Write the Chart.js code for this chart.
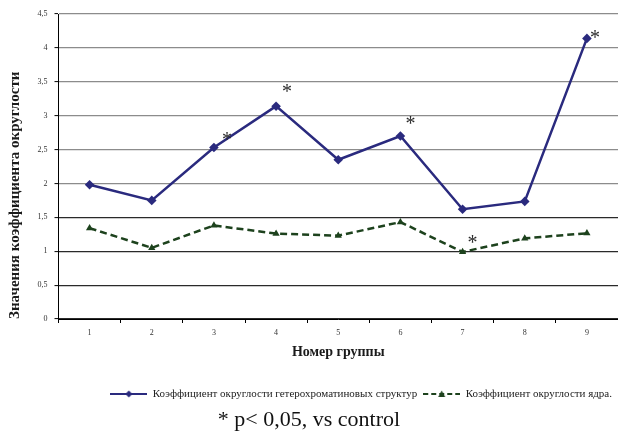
<!DOCTYPE html>
<html>
<head>
<meta charset="utf-8">
<script src="https://cdn.jsdelivr.net/npm/chart.js@4/dist/chart.umd.min.js"></script>
<style>
html,body{margin:0;padding:0;overflow:hidden;background:#fff;width:618px;height:433px}
canvas{display:block}
</style>
</head>
<body>
<canvas id="c" width="618" height="433" style="width:618px;height:433px"></canvas>
<script>
// ---- data ----
const groups = ['1', '2', '3', '4', '5', '6', '7', '8', '9'];
const heteroValues = [1.98, 1.75, 2.53, 3.14, 2.35, 2.70, 1.62, 1.735, 4.14];
const nucleusValues = [1.34, 1.05, 1.38, 1.26, 1.23, 1.43, 0.99, 1.19, 1.265];
const yTicks = [0, 0.5, 1, 1.5, 2, 2.5, 3, 3.5, 4, 4.5];
const heteroStars = ['3', '4', '6', '9'];
const nucleusStars = ['7'];
const seriesNames = ['Коэффициент округлости гетерохроматиновых структур', 'Коэффициент округлости ядра.'];
const xTitle = 'Номер группы';
const yTitle = 'Значения коэффициента округлости';
const noteText = '* p< 0,05, vs control';

// ---- styles ----
const BLUE = '#2a2a7e';
const GREEN = '#1d421d';
const SERIF = '"Liberation Serif", "DejaVu Serif", serif';

function legendSymbol(color, dash, marker) {
  const c = document.createElement('canvas');
  c.width = 37; c.height = 10;
  const g = c.getContext('2d');
  g.strokeStyle = color; g.fillStyle = color; g.lineWidth = 2.2;
  g.setLineDash(dash);
  g.beginPath(); g.moveTo(0, 5); g.lineTo(37, 5); g.stroke();
  g.setLineDash([]);
  g.beginPath();
  if (marker === 'diamond') {
    g.moveTo(18.5, 1.5); g.lineTo(22, 5); g.lineTo(18.5, 8.5); g.lineTo(15, 5);
  } else {
    g.moveTo(18.5, 1.5); g.lineTo(22, 8); g.lineTo(15, 8);
  }
  g.closePath(); g.fill();
  return c;
}
const legendSymbols = [legendSymbol(BLUE, [], 'diamond'), legendSymbol(GREEN, [5, 3], 'triangle')];

// asterisk offsets relative to the marked point (pixels)
const starOffsets = {
  '0:3': [13, -12], '0:4': [11, -18], '0:6': [10, -16], '0:9': [8, -4],
  '1:7': [10, -13]
};

const starPlugin = {
  id: 'stars',
  afterDatasetsDraw(chart) {
    const ctx = chart.ctx;
    ctx.save();
    ctx.font = '20px ' + SERIF;
    ctx.fillStyle = '#2b2b2b';
    ctx.textAlign = 'center';
    ctx.textBaseline = 'alphabetic';
    const m = ctx.measureText('*');
    const shift = (m.actualBoundingBoxAscent - m.actualBoundingBoxDescent) / 2;
    [[0, heteroStars], [1, nucleusStars]].forEach(([di, list]) => {
      const meta = chart.getDatasetMeta(di);
      list.forEach(g => {
        const el = meta.data[groups.indexOf(g)];
        const off = starOffsets[di + ':' + g] || [10, -14];
        ctx.fillText('*', el.x + off[0], el.y + off[1] + shift);
      });
    });
    ctx.restore();
  }
};

new Chart(document.getElementById('c'), {
  type: 'line',
  data: {
    labels: groups,
    datasets: [
      {
        label: seriesNames[0],
        data: heteroValues,
        borderColor: BLUE,
        backgroundColor: BLUE,
        borderWidth: 2.5,
        pointStyle: 'rectRot',
        pointRadius: 4.8,
        pointBorderWidth: 0,
        tension: 0
      },
      {
        label: seriesNames[1],
        data: nucleusValues,
        borderColor: GREEN,
        backgroundColor: GREEN,
        borderWidth: 2.5,
        borderDash: [7, 4],
        pointStyle: 'triangle',
        pointRadius: 4.2,
        pointBorderWidth: 0,
        tension: 0
      }
    ]
  },
  options: {
    responsive: false,
    animation: false,
    layout: { autoPadding: false, padding: { top: 14, right: 0, left: 0, bottom: 0 } },
    scales: {
      x: {
        offset: true,
        grid: { display: true, drawOnChartArea: false, offset: true, tickLength: 4, tickColor: '#000', tickWidth: 1 },
        border: { display: true, color: '#000', width: 1 },
        ticks: { font: { family: SERIF, size: 8 }, color: '#333', padding: 5, maxRotation: 0 },
        title: { display: true, text: xTitle, font: { family: SERIF, size: 14, weight: 'bold' }, color: '#1a1a1a', padding: { top: 0, bottom: 22 } },
        afterFit(s) { s.height = 63.5; s.paddingLeft = 0; s.paddingRight = 0; }
      },
      y: {
        min: 0, max: 4.5,
        afterBuildTicks(s) { s.ticks = yTicks.map(v => ({ value: v })); },
        grid: {
          color: c => (c.tick && c.tick.value <= 1.5 ? '#2a2a2a' : '#8c8c8c'),
          lineWidth: 1.2,
          tickLength: 4, tickColor: '#000', tickWidth: 1
        },
        border: { display: true, color: '#000', width: 1 },
        ticks: { font: { family: SERIF, size: 8 }, color: '#333', padding: 7, callback: v => String(v).replace('.', ',') },
        title: { display: true, text: yTitle, align: 'start', font: { family: SERIF, size: 15, weight: 'bold' }, color: '#1a1a1a', padding: { top: 6, bottom: 0 } },
        afterFit(s) { s.width = 58.5; }
      }
    },
    plugins: {
      legend: {
        position: 'bottom',
        align: 'end',
        fullSize: false,
        labels: {
          usePointStyle: true,
          pointStyleWidth: 37,
          padding: 6,
          font: { family: SERIF, size: 11 },
          color: '#222',
          generateLabels: chart => chart.data.datasets.map((ds, i) => ({
            text: ds.label,
            pointStyle: legendSymbols[i],
            fillStyle: ds.borderColor,
            strokeStyle: ds.borderColor,
            lineWidth: 0,
            hidden: false,
            datasetIndex: i,
            fontColor: '#222'
          }))
        }
      },
      title: {
        display: true,
        position: 'bottom',
        text: noteText,
        font: { family: SERIF, size: 22, weight: 'normal', lineHeight: 1 },
        color: '#111',
        padding: { top: -0.5, bottom: 2 }
      },
      tooltip: { enabled: false }
    }
  },
  plugins: [starPlugin]
});
</script>
</body>
</html>
